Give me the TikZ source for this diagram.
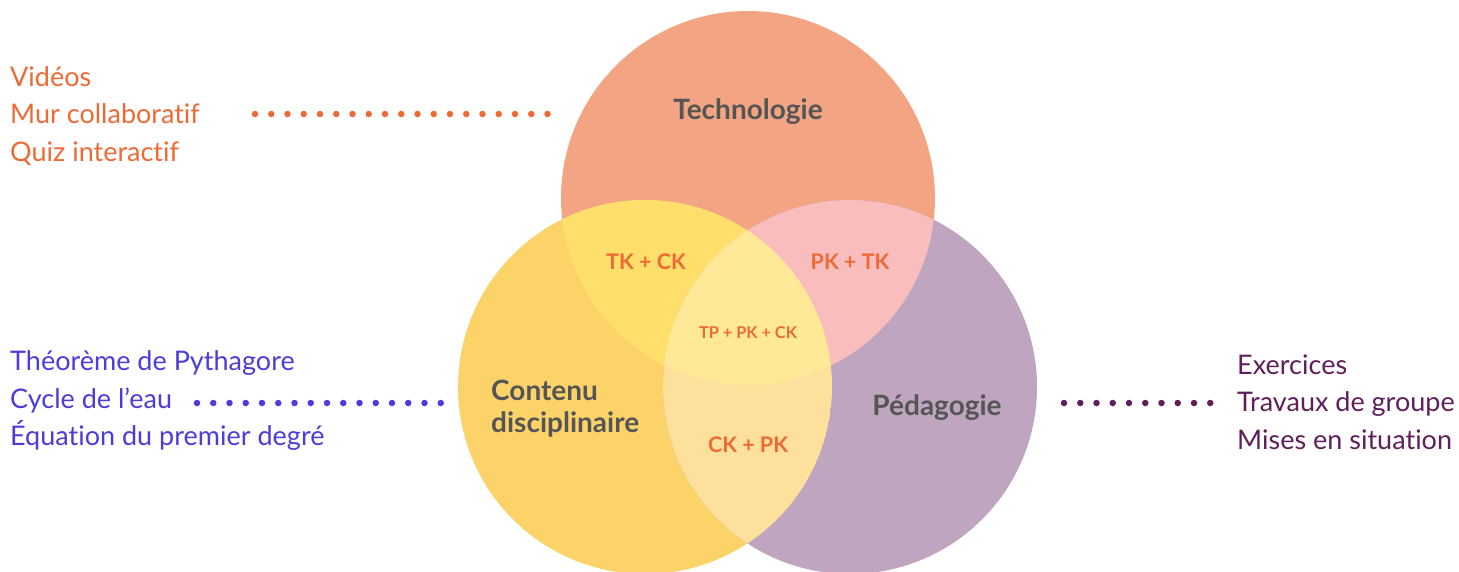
\documentclass[tikz,border=0pt]{standalone}
\usepackage{fontspec}
\setmainfont{Lato}[Ligatures=NoCommon]
\usetikzlibrary{positioning}
\definecolor{techcol}{HTML}{F3A583}
\definecolor{contcol}{HTML}{FCD368}
\definecolor{pedacol}{HTML}{BFA5BF}
\definecolor{tcover}{HTML}{FFDF6B}
\definecolor{tpover}{HTML}{F9BDBE}
\definecolor{cpover}{HTML}{FDE09B}
\definecolor{allover}{HTML}{FFE898}
\definecolor{labelgray}{HTML}{555555}
\definecolor{pairorange}{HTML}{EE6A35}
\definecolor{techtext}{HTML}{EE6A35}
\definecolor{conttext}{HTML}{4E3BDB}
\definecolor{pedatext}{HTML}{5E1F5B}
\newcommand\vennr{187pt}
\tikzset{
	listtext/.style={font=\fontsize{27}{37.5}\selectfont,align=left,inner sep=0pt,anchor=west},
	setlabel/.style={font=\fontsize{28}{32}\selectfont\bfseries,text=labelgray,inner sep=0pt},
	pairlabel/.style={font=\fontsize{21.5}{24}\selectfont\bfseries,text=pairorange,inner sep=0pt},
	dotline/.style={line width=6.5pt,line cap=round,dash pattern=on 0pt off 16.25pt},
}
\begin{document}
\begin{tikzpicture}[x=1pt,y=-1pt]
			\useasboundingbox (0,0) rectangle (1459,571);
			%the three sets
			\coordinate (tech) at (748,198);
			\coordinate (cont) at (645,387);
			\coordinate (peda) at (850,387);
			\fill [techcol] (tech) circle[radius=\vennr];
			\fill [contcol] (cont) circle[radius=\vennr];
			\fill [pedacol] (peda) circle[radius=\vennr];
			\begin{scope}
				\clip (tech) circle[radius=\vennr];
				\fill [tcover] (cont) circle[radius=\vennr];
				\fill [tpover] (peda) circle[radius=\vennr];
				\clip (cont) circle[radius=\vennr];
				\fill [allover] (peda) circle[radius=\vennr];
			\end{scope}
			\begin{scope}
				\clip (cont) circle[radius=\vennr];
				\clip (peda) circle[radius=\vennr];
				\fill [cpover] (cont) circle[radius=\vennr];
				\clip (tech) circle[radius=\vennr];
				\fill [allover] (cont) circle[radius=\vennr];
			\end{scope}
			%labels
			\node [setlabel] (techlabel) at (748,112) {Technologie};
			\node [setlabel,align=left,anchor=west] (contlabel) at (491,409) {Contenu\\disciplinaire};
			\node [setlabel] (pedalabel) at (937,408) {Pédagogie};
			\node [pairlabel] (tclabel) at (646,262) {TK + CK};
			\node [pairlabel] (tplabel) at (850,262) {PK + TK};
			\node [pairlabel] (cplabel) at (748,445) {CK + PK};
			\node [pairlabel,font=\fontsize{16.3}{18}\selectfont\bfseries] (alllabel) at (748,333) {TP + PK + CK};
			%examples
			\node [listtext,text=techtext] (techlist) at (10,116) {Vidéos\\Mur collaboratif\\Quiz interactif};
			\node [listtext,text=conttext] (contlist) at (10,401) {Théorème de Pythagore\\Cycle de l’eau\\Équation du premier degré};
			\node [listtext,text=pedatext] (pedalist) at (1237,402) {Exercices\\Travaux de groupe\\Mises en situation};
			\coordinate (techfrom) at (255,114);
			\coordinate (techto) at (548.5,114);
			\coordinate (contfrom) at (197,403);
			\coordinate (contto) at (441.5,403);
			\coordinate (pedafrom) at (1064,403);
			\coordinate (pedato) at (1211,403);
			\draw [dotline,techtext] (techfrom)--(techto);
			\draw [dotline,conttext] (contfrom)--(contto);
			\draw [dotline,pedatext] (pedafrom)--(pedato);
		\end{tikzpicture}
\end{document}
